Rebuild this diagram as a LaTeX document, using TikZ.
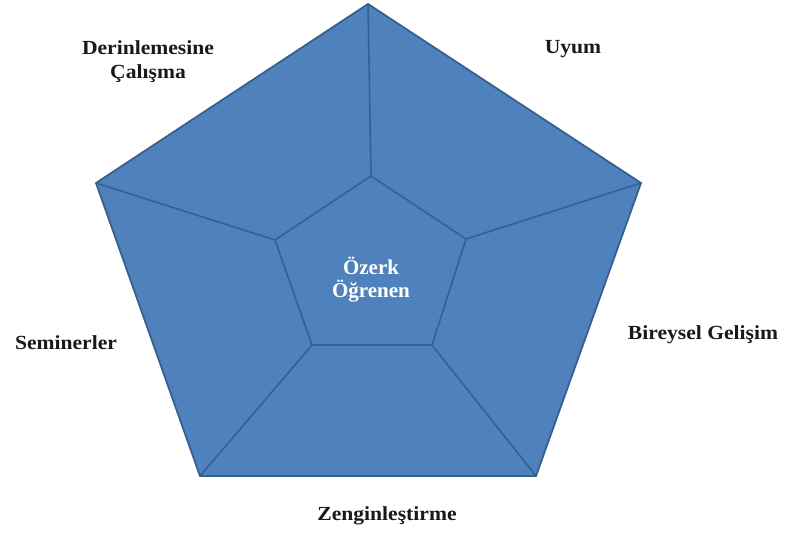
\documentclass[tikz,border=0pt]{standalone}
\usepackage{fontspec}
\setmainfont{Liberation Serif}
\usepackage{tikz}
\usetikzlibrary{calc}
\definecolor{facefill}{HTML}{4F81BD}
\definecolor{faceline}{HTML}{38608F}
\tikzset{
  label/.style={font=\bfseries\fontsize{20bp}{24bp}\selectfont, align=center, xscale=1.08, text=black!90},
  centerlabel/.style={font=\bfseries\fontsize{21bp}{23bp}\selectfont, align=center, text=white}
}

\begin{document}
\begin{tikzpicture}[x=1bp, y=-1bp]
		\useasboundingbox (0,0) rectangle (786,533);

		% Outer corners
		\coordinate (o1) at (368,4);
		\coordinate (o2) at (641,183);
		\coordinate (o3) at (536,476);
		\coordinate (o4) at (200,476);
		\coordinate (o5) at (96,183);

		% Inner corners
		\coordinate (i1) at (371,176);
		\coordinate (i2) at (466,239);
		\coordinate (i3) at (432,345);
		\coordinate (i4) at (312,345);
		\coordinate (i5) at (275,240);

		% Pentagon
		\fill[facefill] (o1) -- (o2) -- (o3) -- (o4) -- (o5) -- cycle;
		\draw[faceline, line width=1.6bp] (i1) -- (i2) -- (i3) -- (i4) -- (i5) -- cycle;
		\foreach \k in {1,...,5}
			\draw[faceline, line width=1.6bp] (i\k) -- (o\k);
		\draw[faceline, line width=1.8bp, line join=miter] (o1) -- (o2) -- (o3) -- (o4) -- (o5) -- cycle;

		% Labels
		\node[centerlabel] (center) at (371,280) {Özerk\\Öğrenen};
		\node[label] (derin) at (148,62) {Derinlemesine\\Çalışma};
		\node[label] (uyum) at (573,49) {Uyum};
		\node[label] (bireysel) at (703,335) {Bireysel Gelişim};
		\node[label] (zengin) at (387,516) {Zenginleştirme};
		\node[label] (seminer) at (66,343) {Seminerler};
	\end{tikzpicture}
\end{document}
